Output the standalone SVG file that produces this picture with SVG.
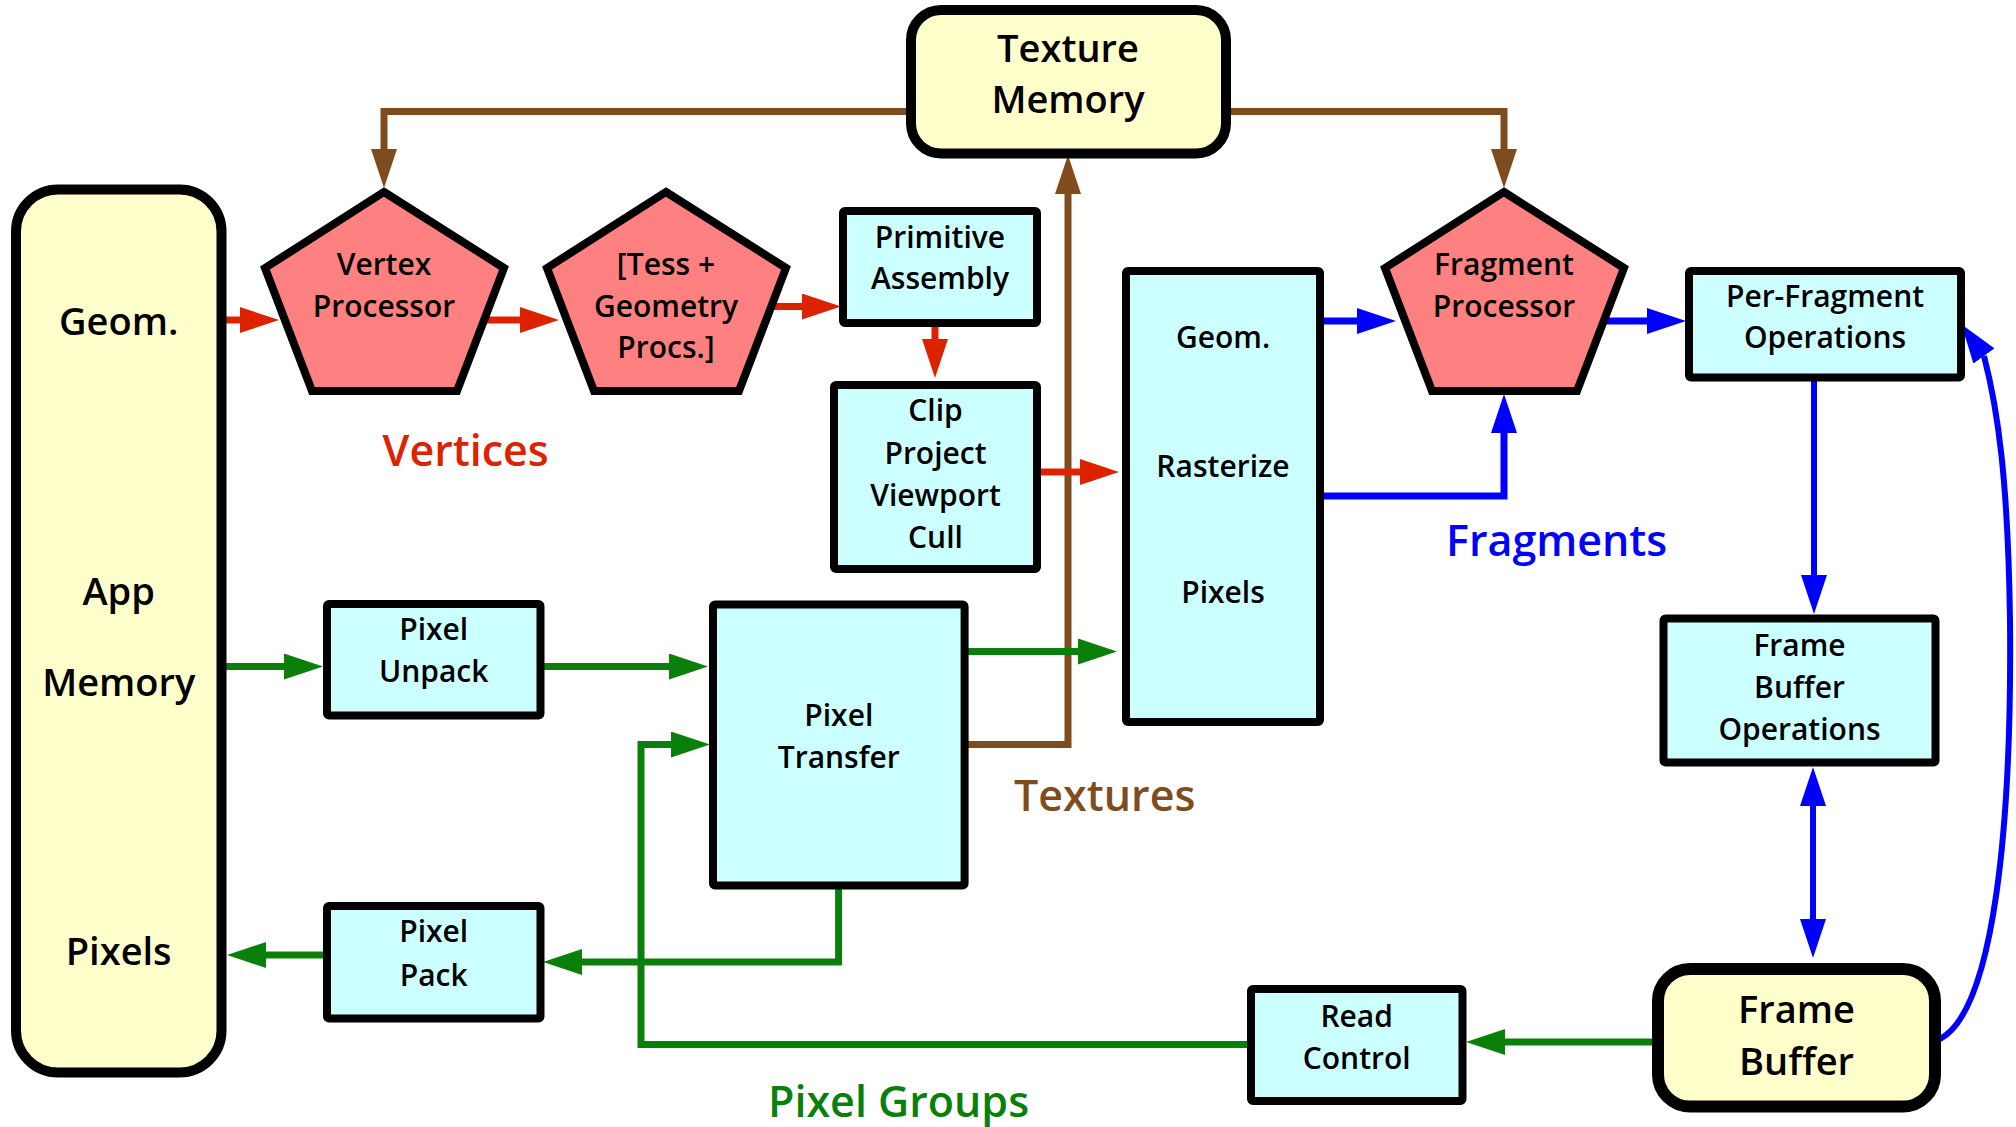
<svg xmlns="http://www.w3.org/2000/svg" width="2016" height="1127" viewBox="0 0 2016 1127">
<style>
  .box { fill: #ccffff; stroke: #000; stroke-width: 8; stroke-linejoin: miter; }
  .mem { fill: #ffffcc; stroke: #000; stroke-width: 10; }
  .pent { fill: #ff8080; stroke: #000; stroke-width: 8; stroke-linejoin: miter; }
  .t { font-family: "Open Sans", "Noto Sans", "DejaVu Sans", sans-serif; font-weight: 600; font-size: 30px; fill: #000; text-anchor: middle; }
  .tb { font-size: 38px; }
  .lbl { font-family: "Open Sans", "Noto Sans", "DejaVu Sans", sans-serif; font-weight: 600; font-size: 43px; }
  .c { fill: none; stroke-width: 7; stroke-linejoin: miter; }
  .red { stroke: #dd2200; marker-end: url(#ar); }
  .blue { stroke: #0000ff; marker-end: url(#ab); }
  .green { stroke: #0a800a; marker-end: url(#ag); }
  .brown { stroke: #7f4c1e; marker-end: url(#an); }
</style>
<defs>
  <marker id="ar" viewBox="0 0 39 26" markerWidth="39" markerHeight="26" refX="0" refY="13" markerUnits="userSpaceOnUse" orient="auto-start-reverse"><path d="M0,0 L39,13 L0,26 Z" fill="#dd2200"/></marker>
  <marker id="ab" viewBox="0 0 39 26" markerWidth="39" markerHeight="26" refX="0" refY="13" markerUnits="userSpaceOnUse" orient="auto-start-reverse"><path d="M0,0 L39,13 L0,26 Z" fill="#0000ff"/></marker>
  <marker id="abf" viewBox="0 0 39 26" markerWidth="39" markerHeight="26" refX="0" refY="13" markerUnits="userSpaceOnUse" orient="-125.5"><path d="M0,0 L39,13 L0,26 Z" fill="#0000ff"/></marker>
  <marker id="ag" viewBox="0 0 39 26" markerWidth="39" markerHeight="26" refX="0" refY="13" markerUnits="userSpaceOnUse" orient="auto-start-reverse"><path d="M0,0 L39,13 L0,26 Z" fill="#0a800a"/></marker>
  <marker id="an" viewBox="0 0 39 26" markerWidth="39" markerHeight="26" refX="0" refY="13" markerUnits="userSpaceOnUse" orient="auto-start-reverse"><path d="M0,0 L39,13 L0,26 Z" fill="#7f4c1e"/></marker>
</defs>
<rect width="2016" height="1127" fill="#ffffff"/>

<g id="connectors">
  <path class="c brown" d="M 911 111.5 H 384 V 149"/>
  <path class="c brown" d="M 1225 111.5 H 1504 V 149"/>
  <path class="c brown" d="M 964 744.5 H 1068 V 194"/>
  <path class="c red" d="M 226 320 H 240"/>
  <path class="c red" d="M 483 320 H 520"/>
  <path class="c red" d="M 770 306.5 H 802"/>
  <path class="c red" d="M 935 323 V 339"/>
  <path class="c red" d="M 1037 472 H 1080"/>
  <path class="c blue" d="M 1320 321 H 1357"/>
  <path class="c blue" d="M 1600 321 H 1647"/>
  <path class="c blue" d="M 1320 496 H 1504 V 433"/>
  <path class="c blue" style="stroke-width:6" d="M 1814 377 V 575"/>
  <path class="c blue" style="stroke-width:6; marker-start: url(#ab)" d="M 1813 806 V 919"/>
  <path class="c" style="stroke:#0000ff; stroke-width:6; marker-end: url(#abf)" d="M 1940 1039 C 1995 1010, 2012 820, 2010 620 C 2008 480, 1998 410, 1984 356"/>
  <path class="c green" d="M 226 666.5 H 284"/>
  <path class="c green" d="M 540 666.5 H 669"/>
  <path class="c green" d="M 964 651.5 H 1078"/>
  <path class="c green" d="M 838.6 885 V 962 H 582"/>
  <path class="c green" d="M 327 955 H 266"/>
  <path class="c green" d="M 1653 1042 H 1505"/>
  <path class="c green" d="M 1251 1044.5 H 641 V 744.5 H 671"/>
</g>

<g id="app-memory">
  <rect class="mem" x="16" y="189.5" width="205.5" height="883" rx="42" ry="42"/>
  <text class="t tb" x="118.7" y="335">Geom.</text>
  <text class="t tb" x="118.7" y="605">App</text>
  <text class="t tb" x="118.7" y="695.5">Memory</text>
  <text class="t tb" x="118.7" y="965">Pixels</text>
</g>
<g id="texture-memory">
  <rect class="mem" x="911" y="10" width="315" height="143.5" rx="30" ry="30"/>
  <text class="t tb" x="1068" y="62">Texture</text>
  <text class="t tb" x="1068" y="112.5">Memory</text>
</g>
<g id="vertex-processor">
  <polygon class="pent" points="384,192 504,268 457,391 312,391 265,268"/>
  <text class="t" x="384" y="275">Vertex</text>
  <text class="t" x="384" y="317">Processor</text>
</g>
<g id="tess-geometry">
  <polygon class="pent" points="666,192 786,268 739,391 594,391 547,268"/>
  <text class="t" x="666" y="275">[Tess +</text>
  <text class="t" x="666" y="317">Geometry</text>
  <text class="t" x="666" y="358">Procs.]</text>
</g>
<g id="fragment-processor">
  <polygon class="pent" points="1504,192 1624,268 1577,391 1432,391 1385,268"/>
  <text class="t" x="1504" y="275">Fragment</text>
  <text class="t" x="1504" y="317">Processor</text>
</g>
<g id="primitive-assembly">
  <rect class="box" x="843" y="211" width="194" height="112" rx="2"/>
  <text class="t" x="940" y="248">Primitive</text>
  <text class="t" x="940" y="289">Assembly</text>
</g>
<g id="clip">
  <rect class="box" x="834" y="385" width="203" height="184" rx="2"/>
  <text class="t" x="935.5" y="421">Clip</text>
  <text class="t" x="935.5" y="464">Project</text>
  <text class="t" x="935.5" y="506">Viewport</text>
  <text class="t" x="935.5" y="548">Cull</text>
</g>
<g id="rasterize">
  <rect class="box" x="1126" y="271" width="194" height="451" rx="2"/>
  <text class="t" x="1223" y="348">Geom.</text>
  <text class="t" x="1223" y="477">Rasterize</text>
  <text class="t" x="1223" y="603">Pixels</text>
</g>
<g id="per-fragment">
  <rect class="box" x="1689" y="271" width="272" height="106.5" rx="2"/>
  <text class="t" x="1825" y="307">Per-Fragment</text>
  <text class="t" x="1825" y="348">Operations</text>
</g>
<g id="frame-buffer-ops">
  <rect class="box" x="1663.5" y="618.5" width="272" height="144" rx="2"/>
  <text class="t" x="1799.5" y="656">Frame</text>
  <text class="t" x="1799.5" y="698">Buffer</text>
  <text class="t" x="1799.5" y="740">Operations</text>
</g>
<g id="frame-buffer">
  <rect class="mem" style="stroke-width:12" x="1658" y="969" width="277" height="137.5" rx="32" ry="32"/>
  <text class="t tb" x="1796.5" y="1023">Frame</text>
  <text class="t tb" x="1796.5" y="1075">Buffer</text>
</g>
<g id="pixel-unpack">
  <rect class="box" x="327" y="604" width="213.5" height="111.5" rx="2"/>
  <text class="t" x="433.7" y="640">Pixel</text>
  <text class="t" x="433.7" y="682">Unpack</text>
</g>
<g id="pixel-transfer">
  <rect class="box" x="713" y="604.5" width="251.6" height="281" rx="2"/>
  <text class="t" x="838.8" y="725.6">Pixel</text>
  <text class="t" x="838.8" y="768">Transfer</text>
</g>
<g id="pixel-pack">
  <rect class="box" x="327" y="906" width="213.5" height="112.5" rx="2"/>
  <text class="t" x="433.7" y="942">Pixel</text>
  <text class="t" x="433.7" y="986">Pack</text>
</g>
<g id="read-control">
  <rect class="box" x="1251" y="989" width="211.5" height="112" rx="2"/>
  <text class="t" x="1356.7" y="1026.5">Read</text>
  <text class="t" x="1356.7" y="1069">Control</text>
</g>

<g id="labels">
  <text class="lbl" x="382.6" y="466" fill="#dd2200">Vertices</text>
  <text class="lbl" x="1446" y="556" fill="#0000ff">Fragments</text>
  <text class="lbl" x="1014" y="811" fill="#7f4c1e">Textures</text>
  <text class="lbl" x="768" y="1117" fill="#0a800a">Pixel Groups</text>
</g>
</svg>
